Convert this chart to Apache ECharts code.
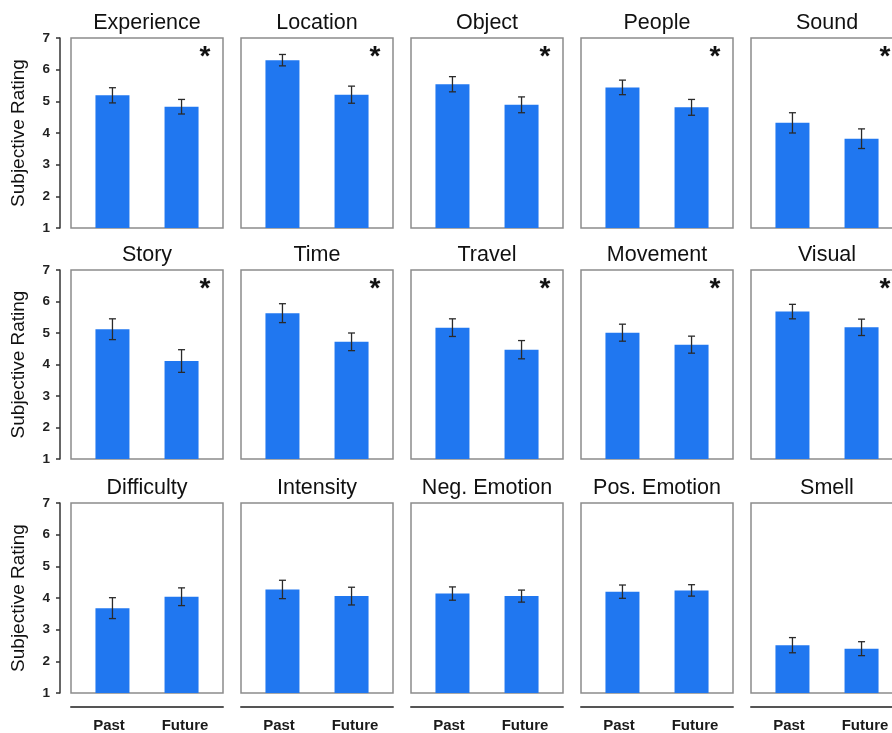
<!DOCTYPE html>
<html><head><meta charset="utf-8">
<script src="https://cdn.jsdelivr.net/npm/echarts@6/dist/echarts.min.js"></script>
<style>html,body{margin:0;padding:0;background:#fff}#c{width:892px;height:733px}</style>
</head><body><div id="c"></div>
<script>
const panels = ['Experience','Location','Object','People','Sound','Story','Time','Travel','Movement','Visual','Difficulty','Intensity','Neg. Emotion','Pos. Emotion','Smell'];
const conditions = ['Past','Future'];
const pastMean   = [5.19, 6.30, 5.54, 5.44, 4.32, 5.12, 5.63, 5.17, 5.01, 5.68, 3.68, 4.27, 4.14, 4.20, 2.51];
const pastSE     = [0.24, 0.18, 0.24, 0.23, 0.32, 0.33, 0.30, 0.28, 0.27, 0.23, 0.33, 0.29, 0.21, 0.21, 0.24];
const futureMean = [4.83, 5.21, 4.89, 4.81, 3.82, 4.11, 4.72, 4.47, 4.63, 5.18, 4.04, 4.06, 4.06, 4.24, 2.40];
const futureSE   = [0.23, 0.27, 0.25, 0.25, 0.31, 0.36, 0.28, 0.29, 0.27, 0.26, 0.28, 0.28, 0.19, 0.18, 0.22];
const significant = [true,true,true,true,true,true,true,true,true,true,false,false,false,false,false];
const yMin = 1, yMax = 7, yStep = 1;
const yAxisName = 'Subjective Rating';

const FONT = "'Liberation Sans', Arial, Helvetica, sans-serif";
const colLeft = [71, 241, 411, 581, 751];
const rowTop = [38, 270, 503];
const rowH = [190, 189, 190];
const W = 152;

const grid = [], xAxis = [], yAxis = [], series = [], graphic = [];

function renderErr(params, api) {
  const x = api.value(0), m = api.value(1), e = api.value(2);
  const t = api.coord([x, m + e]), b = api.coord([x, m - e]);
  const w = 3.5, st = { stroke: '#2a2a2a', lineWidth: 1.3 };
  return { type: 'group', children: [
    { type: 'line', shape: { x1: t[0], y1: t[1], x2: b[0], y2: b[1] }, style: st },
    { type: 'line', shape: { x1: t[0] - w, y1: t[1], x2: t[0] + w, y2: t[1] }, style: st },
    { type: 'line', shape: { x1: b[0] - w, y1: b[1], x2: b[0] + w, y2: b[1] }, style: st }
  ]};
}

panels.forEach((name, i) => {
  const r = Math.floor(i / 5), c = i % 5;
  grid.push({ left: colLeft[c], top: rowTop[r], width: W, height: rowH[r], show: true,
    outerBoundsMode: 'none', containLabel: false,
    borderColor: '#8c8c8c', borderWidth: 1.5, backgroundColor: 'transparent' });
  const vx = xAxis.length;
  xAxis.push({ type: 'value', gridIndex: i, min: 0.4, max: 2.6, show: false, position: 'bottom' });
  if (r === 2) {
    xAxis.push({ type: 'category', gridIndex: i, data: conditions, position: 'bottom', offset: 14,
      axisLine: { show: true, lineStyle: { color: '#555', width: 2 } }, axisTick: { show: false },
      axisLabel: { margin: 11, fontFamily: FONT, fontSize: 15, fontWeight: 'bold', color: '#1a1a1a' },
      splitLine: { show: false } });
  }
  const first = c === 0;
  yAxis.push({ type: 'value', gridIndex: i, min: yMin, max: yMax, interval: yStep, show: first,
    offset: 11, splitLine: { show: false },
    axisLine: { show: true, lineStyle: { color: '#333', width: 1.5 } },
    axisTick: { show: true, inside: false, length: 4, lineStyle: { color: '#333', width: 1.5 } },
    axisLabel: { margin: 10, fontFamily: FONT, fontSize: 13.5, fontWeight: 'bold', color: '#222' },
    name: first ? yAxisName : '', nameLocation: 'middle', nameGap: 32, nameRotate: 90,
    nameTextStyle: { fontFamily: FONT, fontSize: 19, color: '#111' } });
  series.push({ type: 'bar', xAxisIndex: vx, yAxisIndex: i, barWidth: 34, clip: true,
    itemStyle: { color: '#2077F0' }, silent: true,
    data: [[1, pastMean[i]], [2, futureMean[i]]] });
  series.push({ type: 'custom', xAxisIndex: vx, yAxisIndex: i, renderItem: renderErr, silent: true,
    encode: { x: 0, y: 1 }, z: 5,
    data: [[1, pastMean[i], pastSE[i]], [2, futureMean[i], futureSE[i]]] });
  graphic.push({ type: 'text', x: colLeft[c] + W / 2, y: rowTop[r] - 15, silent: true,
    style: { text: name, align: 'center', verticalAlign: 'middle', fontFamily: FONT, fontSize: 21.5, fill: '#111' } });
  if (significant[i]) {
    graphic.push({ type: 'text', x: colLeft[c] + W - 18, y: rowTop[r] + 19, silent: true,
      style: { text: '*', align: 'center', verticalAlign: 'middle', fontFamily: FONT, fontSize: 28, fontWeight: 'bold', fill: '#111' } });
  }
});

const chart = echarts.init(document.getElementById('c'), null, { renderer: 'canvas' });
chart.setOption({ backgroundColor: '#fff', animation: false, grid, xAxis, yAxis, series, graphic });
</script></body></html>
